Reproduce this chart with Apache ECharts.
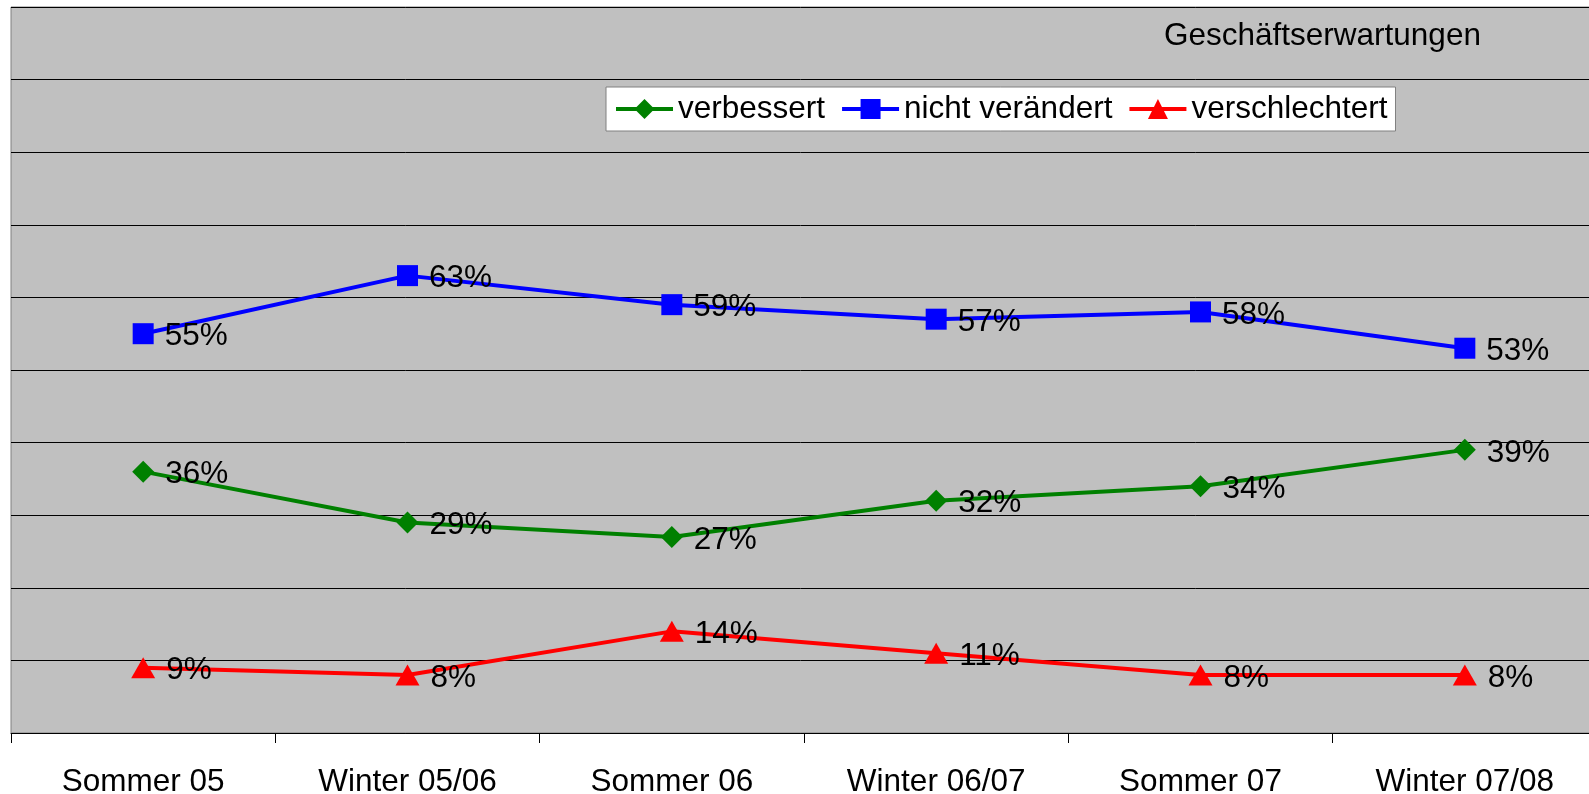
<!DOCTYPE html>
<html>
<head>
<meta charset="utf-8">
<script src="https://cdn.jsdelivr.net/npm/echarts@6/dist/echarts.min.js"></script>
<style>
  html, body { margin: 0; padding: 0; background: #fff; }
  #app { width: 1589px; height: 794px; }
</style>
</head>
<body>
<div id="app"></div>
<script>
const categories = ["Sommer 05", "Winter 05/06", "Sommer 06", "Winter 06/07", "Sommer 07", "Winter 07/08"];
const verbessert = [36, 29, 27, 32, 34, 39];
const nichtVeraendert = [55, 63, 59, 57, 58, 53];
const verschlechtert = [9, 8, 14, 11, 8, 8];

const font = "Liberation Sans, Arial, sans-serif";

const labelOption = {
  show: true,
  position: "right",
  distance: 11,
  offset: [0, 3],
  formatter: "{c}%",
  fontSize: 31.5,
  fontFamily: font,
  color: "#000"
};

const myChart = echarts.init(document.getElementById("app"));

myChart.setOption({
  animation: false,
  title: {
    text: "Geschäftserwartungen",
    left: 1164,
    top: 20,
    padding: 0,
    textStyle: { fontSize: 31.5, fontWeight: "normal", fontFamily: font, color: "#000" }
  },
  legend: {
    left: 606,
    top: 87,
    padding: [6, 8, 6, 8],
    itemGap: 15,
    itemWidth: 57,
    itemHeight: 25,
    backgroundColor: "#fff",
    borderColor: "#808080",
    borderWidth: 1,
    borderRadius: 0,
    lineStyle: { width: 4 },
    textStyle: { fontSize: 31.5, fontFamily: font, color: "#000" },
    data: ["verbessert", "nicht verändert", "verschlechtert"]
  },
  grid: {
    left: 11,
    right: -8,
    top: 7,
    bottom: 61,
    outerBoundsMode: "none",
    show: true,
    backgroundColor: "#C0C0C0",
    borderColor: "#808080",
    borderWidth: 1
  },
  xAxis: {
    type: "category",
    data: categories,
    axisLine: { lineStyle: { color: "#000", width: 1 } },
    axisTick: { show: true, length: 10, lineStyle: { color: "#000" } },
    axisLabel: { fontSize: 31.5, fontFamily: font, color: "#000", margin: 33 }
  },
  yAxis: {
    type: "value",
    min: 0,
    max: 100,
    interval: 10,
    axisLine: { show: false },
    axisTick: { show: false },
    axisLabel: { show: false },
    splitLine: { lineStyle: { color: "#000", width: 1 } }
  },
  series: [
    {
      name: "verbessert",
      type: "line",
      data: verbessert,
      color: "#008000",
      symbol: "diamond",
      symbolSize: [22, 22],
      lineStyle: { width: 4 },
      label: labelOption
    },
    {
      name: "nicht verändert",
      type: "line",
      data: nichtVeraendert,
      color: "#0000FF",
      symbol: "rect",
      symbolSize: 21,
      lineStyle: { width: 4 },
      label: labelOption
    },
    {
      name: "verschlechtert",
      type: "line",
      data: verschlechtert,
      color: "#FF0000",
      symbol: "triangle",
      symbolSize: [24, 21],
      lineStyle: { width: 4 },
      label: labelOption
    }
  ]
});
</script>
</body>
</html>
